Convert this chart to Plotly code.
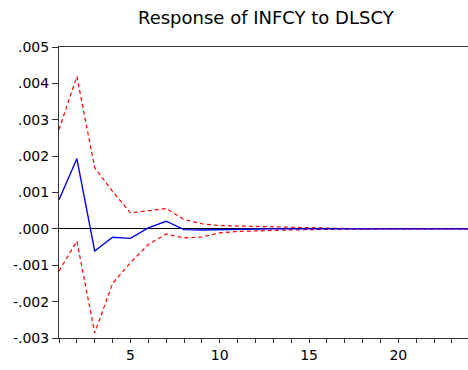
import plotly.graph_objects as go

periods = list(range(1, 25))
response = [0.00080, 0.00193, -0.00061, -0.00023, -0.00026, 0.00003, 0.00021, -0.00002,
            -0.00003, -0.00002, -0.00001, -0.00001, 0.0, 0.0, 0.0, 0.0, 0.0, 0.0,
            0.0, 0.0, 0.0, 0.0, 0.0, 0.0]
upper = [0.00273, 0.00419, 0.00168, 0.00103, 0.00044, 0.00051, 0.00056, 0.00026,
         0.00014, 0.00009, 0.00008, 0.00007, 0.00004, 0.00003, 0.00002, 0.00001, 0.00001, 0.0,
         0.0, 0.0, 0.0, 0.0, 0.0, 0.0]
lower = [-0.00116, -0.00034, -0.00286, -0.00150, -0.00093, -0.00043, -0.00014, -0.00025,
         -0.00022, -0.00011, -0.00007, -0.00005, -0.00004, -0.00003, -0.00002, -0.00001, -0.00001, 0.0,
         0.0, 0.0, 0.0, 0.0, 0.0, 0.0]

y_tickvals = [0.005, 0.004, 0.003, 0.002, 0.001, 0.0, -0.001, -0.002, -0.003]
y_ticktext = [".005", ".004", ".003", ".002", ".001", ".000", "-.001", "-.002", "-.003"]
x_tickvals = periods
x_ticktext = [str(p) if p % 5 == 0 else "" for p in periods]

fig = go.Figure()
fig.add_trace(go.Scatter(x=periods, y=upper, mode="lines",
                         line=dict(color="#ff0000", width=1.2, dash="4px,3px")))
fig.add_trace(go.Scatter(x=periods, y=lower, mode="lines",
                         line=dict(color="#ff0000", width=1.2, dash="4px,3px")))
fig.add_trace(go.Scatter(x=periods, y=response, mode="lines",
                         line=dict(color="#0000ff", width=1.4)))

fig.update_layout(
    width=468, height=370,
    margin=dict(l=59, r=0, t=47, b=32),
    paper_bgcolor="white", plot_bgcolor="white",
    showlegend=False,
    title=dict(text="Response of INFCY to DLSCY", x=0.568, xanchor="center",
               y=0.951, yanchor="middle",
               font=dict(family="DejaVu Sans", size=18, color="black")),
    xaxis=dict(range=[1, 23.9], tickvals=x_tickvals, ticktext=x_ticktext,
               showgrid=False, zeroline=False, showline=True, linecolor="#333333",
               linewidth=1, mirror=True, ticks="outside", ticklen=4, tickcolor="#333333",
               tickfont=dict(family="DejaVu Sans", size=14, color="black")),
    yaxis=dict(range=[-0.003, 0.005], tickvals=y_tickvals, ticktext=y_ticktext,
               showgrid=False, zeroline=True, zerolinecolor="black", zerolinewidth=1,
               showline=True, linecolor="#333333", linewidth=1,
               ticks="outside", ticklen=6, tickcolor="#333333",
               tickfont=dict(family="DejaVu Sans", size=14, color="black")),
)

fig.write_html("out.html")
